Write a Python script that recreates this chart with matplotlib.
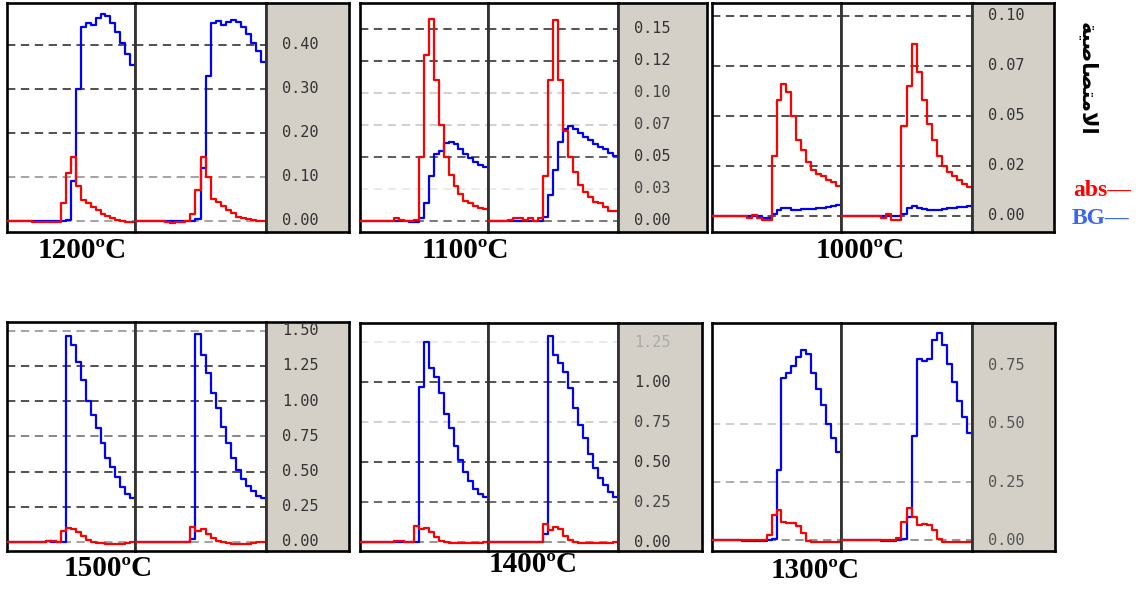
import numpy as np
import matplotlib
matplotlib.use("Agg")
import matplotlib.pyplot as plt

# ---------------- data ----------------
temps = ["1200ºC", "1100ºC", "1000ºC", "1500ºC", "1400ºC", "1300ºC"]

# 1200 ºC : replicate a / b
bg_1200_a = [0, 0, 0, 0, 0, 0, 0, 0, 0, 0, 0, 0, 0.003, 0.09, 0.30, 0.44, 0.45, 0.445, 0.46, 0.47, 0.465, 0.45, 0.43, 0.405, 0.38, 0.355]
abs_1200_a = [0, 0, 0, 0, 0, -0.002, -0.003, -0.003, -0.003, -0.002, -0.002, 0.04, 0.11, 0.145, 0.08, 0.048, 0.04, 0.032, 0.024, 0.017, 0.011, 0.006, 0.003, 0.001, -0.002, -0.003]
bg_1200_b = [0, 0, 0, 0, 0, 0, 0, 0, 0, 0, 0, 0, 0.005, 0.12, 0.33, 0.45, 0.455, 0.445, 0.452, 0.457, 0.452, 0.44, 0.425, 0.405, 0.385, 0.36]
abs_1200_b = [0, 0, 0, 0, 0, 0, -0.003, -0.004, -0.003, -0.002, 0.0, 0.015, 0.07, 0.145, 0.1, 0.05, 0.042, 0.033, 0.024, 0.018, 0.01, 0.006, 0.004, 0.002, 0.001, 0.0]

# 1100 ºC
bg_1100_a = [0, 0, 0, 0, 0, 0, 0, 0, 0, 0, -0.001, -0.001, 0.002, 0.014, 0.035, 0.052, 0.055, 0.061, 0.062, 0.06, 0.056, 0.052, 0.049, 0.046, 0.044, 0.042]
abs_1100_a = [0, 0, 0, 0, 0, 0, 0, 0.002, 0.001, 0, 0, 0.001, 0.05, 0.13, 0.158, 0.11, 0.075, 0.05, 0.036, 0.027, 0.021, 0.016, 0.014, 0.012, 0.01, 0.009]
bg_1100_b = [0, 0, 0, 0, 0, 0, 0, 0, 0, 0, 0, 0.003, 0.02, 0.04, 0.062, 0.072, 0.074, 0.072, 0.069, 0.066, 0.063, 0.06, 0.058, 0.056, 0.053, 0.051]
abs_1100_b = [0, 0, 0, 0, 0.001, 0.002, 0.002, 0.001, 0.002, 0.0, 0.002, 0.035, 0.11, 0.157, 0.11, 0.07, 0.05, 0.038, 0.028, 0.023, 0.019, 0.015, 0.014, 0.011, 0.008, 0.008]

# 1000 ºC
bg_1000_a = [0, 0, 0, 0, 0, 0, 0, 0, 0, 0, -0.001, -0.001, 0.001, 0.003, 0.004, 0.004, 0.003, 0.003, 0.0033, 0.0035, 0.0035, 0.004, 0.004, 0.0043, 0.005, 0.0055]
abs_1000_a = [0, 0, 0, 0, 0, 0, 0, -0.001, 0.0005, -0.001, -0.002, -0.002, 0.03, 0.058, 0.066, 0.062, 0.05, 0.038, 0.033, 0.027, 0.023, 0.021, 0.020, 0.018, 0.017, 0.015]
bg_1000_b = [0, 0, 0, 0, 0, 0, 0, 0, 0, 0, 0, 0, 0.001, 0.004, 0.005, 0.004, 0.0033, 0.003, 0.003, 0.003, 0.0035, 0.004, 0.004, 0.0045, 0.0045, 0.005]
abs_1000_b = [0, 0, 0, 0, 0, 0, 0, 0.0, -0.001, 0.001, -0.002, -0.002, 0.045, 0.065, 0.086, 0.072, 0.058, 0.046, 0.038, 0.03, 0.025, 0.022, 0.02, 0.018, 0.016, 0.0145]

# 1500 ºC
bg_1500_a = [0, 0, 0, 0, 0, 0, 0, 0, 0.01, 0, 0, 0, 1.46, 1.40, 1.28, 1.15, 1.0, 0.9, 0.81, 0.7, 0.6, 0.53, 0.46, 0.39, 0.34, 0.31]
abs_1500_a = [0, 0, 0, 0, 0, 0, 0, 0, 0.005, 0.005, 0, 0.08, 0.1, 0.09, 0.07, 0.04, 0.012, 0.0, -0.005, -0.01, -0.012, -0.012, -0.012, -0.012, -0.005, 0.0]
bg_1500_b = [0, 0, 0, 0, 0, 0, 0, 0, 0, 0, 0, 0.02, 1.48, 1.33, 1.2, 1.06, 0.95, 0.82, 0.7, 0.6, 0.51, 0.45, 0.4, 0.36, 0.33, 0.31]
abs_1500_b = [0, 0, 0, 0, 0, 0, 0, 0, 0, 0, 0, 0.11, 0.08, 0.09, 0.06, 0.025, 0.005, 0.0, -0.01, -0.012, -0.012, -0.012, -0.012, -0.01, -0.003, 0.0]

# 1400 ºC
bg_1400_a = [0, 0, 0, 0, 0, 0, 0, 0, 0, 0, 0, 0, 0.97, 1.25, 1.09, 1.03, 0.93, 0.8, 0.71, 0.6, 0.51, 0.44, 0.38, 0.33, 0.3, 0.28]
abs_1400_a = [0, 0, 0, 0, 0, 0, 0, 0.005, 0.005, 0, 0, 0.1, 0.08, 0.09, 0.065, 0.03, 0.005, 0, -0.005, -0.005, -0.005, -0.005, -0.005, -0.005, -0.005, 0]
bg_1400_b = [0, 0, 0, 0, 0, 0, 0, 0, 0, 0, 0, 0.05, 1.29, 1.17, 1.12, 1.06, 0.96, 0.84, 0.73, 0.65, 0.55, 0.46, 0.4, 0.355, 0.31, 0.28]
abs_1400_b = [0, 0, 0, 0, 0, 0, 0, 0, 0, 0, 0, 0.11, 0.075, 0.094, 0.08, 0.04, 0.01, 0, -0.003, -0.003, -0.003, -0.003, -0.003, -0.003, -0.003, 0]

# 1300 ºC
bg_1300_a = [0, 0, 0, 0, 0, 0, -0.005, -0.005, -0.006, -0.005, -0.005, 0, 0.005, 0.3, 0.7, 0.72, 0.75, 0.79, 0.818, 0.8, 0.72, 0.65, 0.58, 0.5, 0.44, 0.38]
abs_1300_a = [0, 0, 0, 0, 0, 0, 0, 0, 0, 0, 0, 0.02, 0.11, 0.13, 0.08, 0.073, 0.072, 0.06, 0.03, -0.005, -0.01, -0.01, -0.01, -0.01, -0.01, -0.01]
bg_1300_b = [0, 0, 0, 0, 0, 0, 0, 0, -0.005, -0.005, -0.005, 0, 0.005, 0.1, 0.45, 0.78, 0.77, 0.78, 0.86, 0.894, 0.84, 0.76, 0.68, 0.6, 0.53, 0.46]
abs_1300_b = [0, 0, 0, 0, 0, 0, 0, 0, 0, 0, 0, 0.01, 0.08, 0.14, 0.1, 0.066, 0.068, 0.065, 0.042, 0.005, -0.01, -0.01, -0.01, -0.01, -0.01, -0.01]

# tick values / labels on the grey scale strip of each panel
ticks_1200 = [0.40, 0.30, 0.20, 0.10, 0.00]
labels_1200 = ["0.40", "0.30", "0.20", "0.10", "0.00"]
ticks_1100 = [0.15, 0.125, 0.10, 0.075, 0.05, 0.025, 0.00]
labels_1100 = ["0.15", "0.12", "0.10", "0.07", "0.05", "0.03", "0.00"]
ticks_1000 = [0.10, 0.075, 0.05, 0.025, 0.00]
labels_1000 = ["0.10", "0.07", "0.05", "0.02", "0.00"]
ticks_1500 = [1.50, 1.25, 1.00, 0.75, 0.50, 0.25, 0.00]
labels_1500 = ["1.50", "1.25", "1.00", "0.75", "0.50", "0.25", "0.00"]
ticks_1400 = [1.25, 1.00, 0.75, 0.50, 0.25, 0.00]
labels_1400 = ["1.25", "1.00", "0.75", "0.50", "0.25", "0.00"]
ticks_1300 = [0.75, 0.50, 0.25, 0.00]
labels_1300 = ["0.75", "0.50", "0.25", "0.00"]

legend_labels = ["abs", "BG"]
ylabel_ar = "\ufe94\ufef4\ufebb\ufe8e\ufebc\ufe98\ufee3\ufefb\ufe8d"  # الامتصاصية (shaped, visual order)

# ---------------- layout / style ----------------
W, H = 1136, 592
RED, BLUE, LEG_BLUE = "#ff0000", "#0000ff", "#3a66f2"
GREY_BG = "#d4d0c8"
DK, MD, LT, VL = "#222222", "#8a8a8a", "#c4c4c4", "#e4e4e4"

panels = [
    dict(box=(7, 3, 349, 232), divs=(135, 266), ylim=(-0.025, 0.495),
         runs=((bg_1200_a, abs_1200_a), (bg_1200_b, abs_1200_b)),
         ticks=ticks_1200, labels=labels_1200, grid=[DK, DK, DK, MD, MD],
         tcol=["#333"] * 5, title=temps[0], tpos=(82, 251)),
    dict(box=(360, 3, 707, 232), divs=(488, 618), ylim=(-0.0086, 0.1703),
         runs=((bg_1100_a, abs_1100_a), (bg_1100_b, abs_1100_b)),
         ticks=ticks_1100, labels=labels_1100, grid=[DK, DK, LT, LT, "#333", VL, "#555"],
         tcol=["#333", "#333", "#444", "#444", "#333", "#444", "#333"], title=temps[1], tpos=(465, 251)),
    dict(box=(712, 3, 1054, 232), divs=(841, 972), ylim=(-0.008, 0.1065),
         runs=((bg_1000_a, abs_1000_a), (bg_1000_b, abs_1000_b)),
         ticks=ticks_1000, labels=labels_1000, grid=[DK] * 5,
         tcol=["#333"] * 5, title=temps[2], tpos=(860, 251)),
    dict(box=(7, 322, 349, 551), divs=(135, 266), ylim=(-0.064, 1.5625),
         runs=((bg_1500_a, abs_1500_a), (bg_1500_b, abs_1500_b)),
         ticks=ticks_1500, labels=labels_1500, grid=[MD, DK, DK, "#666", DK, DK, MD],
         tcol=["#333"] * 7, title=temps[3], tpos=(108, 568)),
    dict(box=(360, 323, 702, 551), divs=(488, 618), ylim=(-0.056, 1.369),
         runs=((bg_1400_a, abs_1400_a), (bg_1400_b, abs_1400_b)),
         ticks=ticks_1400, labels=labels_1400, grid=[VL, DK, LT, DK, "#444", "#777"],
         tcol=["#aaa", "#333", "#444", "#333", "#444", "#333"], title=temps[4], tpos=(533, 565)),
    dict(box=(712, 323, 1055, 551), divs=(841, 972), ylim=(-0.047, 0.935),
         runs=((bg_1300_a, abs_1300_a), (bg_1300_b, abs_1300_b)),
         ticks=ticks_1300, labels=labels_1300, grid=[None, LT, "#999", "#777"],
         tcol=["#555"] * 4, title=temps[5], tpos=(815, 570)),
]

plt.rcParams["lines.scale_dashes"] = False
fig = plt.figure(figsize=(W / 100, H / 100), dpi=100)


def fax(l, t, r, b):
    return fig.add_axes([l / W, 1 - b / H, (r - l) / W, (b - t) / H])


OUT_LW, DIV_LW, DIV_C = 1.9, 2.0, "#333333"
for p in panels:
    l, t, r, b = p["box"]
    d1, d2 = p["divs"]
    axa, axb, axg = fax(l, t, d1, b), fax(d1, t, d2, b), fax(d2, t, r, b)
    for ax, (bg, ab) in zip((axa, axb), p["runs"]):
        n = len(bg)
        x = np.arange(n + 1)
        ax.set_xlim(0, n)
        ax.set_ylim(*p["ylim"])
        for v, c in zip(p["ticks"], p["grid"]):
            if c:
                ax.axhline(v, color=c, lw=1.1, dashes=(6, 4), zorder=1)
        ax.plot(x, np.append(bg, bg[-1]), drawstyle="steps-post", color=BLUE, lw=1.6, zorder=3)
        ax.plot(x, np.append(ab, ab[-1]), drawstyle="steps-post", color=RED, lw=1.6, zorder=4)
        ax.set_xticks([])
        ax.set_yticks([])
        for s in ("top", "bottom"):
            ax.spines[s].set_linewidth(OUT_LW)
            ax.spines[s].set_color("black")
        ax.spines["right"].set_linewidth(DIV_LW)
        ax.spines["right"].set_color(DIV_C)
        ax.spines["right"].set_zorder(5)
    axa.spines["left"].set_linewidth(OUT_LW)
    axa.spines["left"].set_color("black")
    axb.spines["left"].set_linewidth(DIV_LW)
    axb.spines["left"].set_color(DIV_C)

    axg.set_facecolor(GREY_BG)
    axg.set_xlim(0, 1)
    axg.set_ylim(*p["ylim"])
    axg.set_xticks([])
    axg.set_yticks([])
    for s in ("top", "bottom", "right"):
        axg.spines[s].set_linewidth(OUT_LW)
        axg.spines[s].set_color("black")
    axg.spines["left"].set_linewidth(DIV_LW)
    axg.spines["left"].set_color(DIV_C)
    xoff = 16 / (r - d2)
    for v, s, c in zip(p["ticks"], p["labels"], p["tcol"]):
        axg.text(xoff, v, s, ha="left", va="center", family="DejaVu Sans Mono",
                 fontsize=11, color=c, clip_on=True)

    tx, ty = p["tpos"]
    fig.text(tx / W, 1 - ty / H, p["title"], ha="center", va="center",
             family="Liberation Serif", fontweight="bold", fontsize=21)

# legend and (Arabic) y label
fig.text(1102 / W, 1 - 190 / H, legend_labels[0] + "\u2014", color=RED, ha="center", va="center",
         family="Liberation Serif", fontweight="bold", fontsize=17)
fig.text(1100 / W, 1 - 218 / H, legend_labels[1] + "\u2014", color=LEG_BLUE, ha="center", va="center",
         family="Liberation Serif", fontweight="bold", fontsize=17)
fig.text(1087 / W, 1 - 79 / H, ylabel_ar, rotation=270, ha="center", va="center",
         family="DejaVu Sans", fontweight="bold", fontsize=15)

fig.savefig("out.png", dpi=100)
